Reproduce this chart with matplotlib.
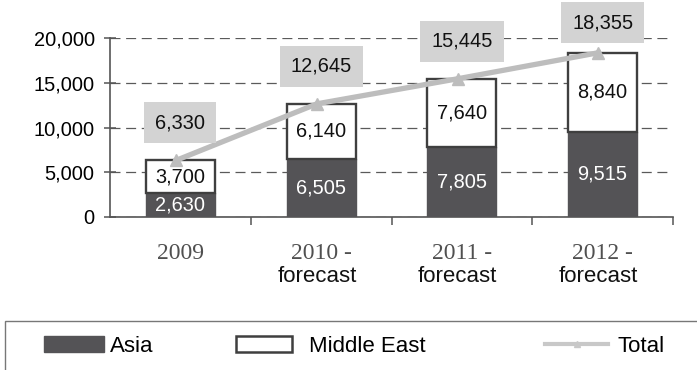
import matplotlib
matplotlib.use("Agg")
import matplotlib.pyplot as plt
import numpy as np
from matplotlib.patches import Patch, Rectangle
from matplotlib.lines import Line2D
from matplotlib.ticker import FuncFormatter

years = ["2009", "2010 -", "2011 -", "2012 -"]
sublabels = ["", "forecast", "forecast", "forecast"]
asia = [2630, 6505, 7805, 9515]
middle_east = [3700, 6140, 7640, 8840]
total = [6330, 12645, 15445, 18355]

DARK = "#545356"
LINE = "#bdbdbd"
BOX = "#d3d3d3"
SANS = "Liberation Sans"
SERIF = "Liberation Serif"
FS = 14.4

plt.rcParams["font.family"] = SANS

fig = plt.figure(figsize=(6.97, 3.70), dpi=100)
ax = fig.add_axes([110 / 697, 1 - 217 / 370, (673 - 110) / 697, (217 - 38) / 370])

x = np.arange(len(years))
w = 0.49
ax.bar(x, asia, w, color=DARK, edgecolor=DARK, lw=1, zorder=3)
ax.bar(x, middle_east, w, bottom=asia, color="white", edgecolor="#3f3f3f", lw=1.7, zorder=3)

for i in range(len(x)):
    ax.text(x[i], asia[i] / 2, f"{asia[i]:,}", ha="center", va="center",
            color="white", fontsize=FS, zorder=5)
    ax.text(x[i], asia[i] + middle_east[i] / 2, f"{middle_east[i]:,}", ha="center",
            va="center", color="#111111", fontsize=FS, zorder=5)

ax.plot(x - 0.03, total, color=LINE, lw=3.8, marker="^", ms=8, mec=LINE, mfc=LINE, zorder=4)

# total labels sit in grey boxes above the line, kept inside the picture
label_y = np.minimum(np.array(total) + 4200, 21700)
for i in range(len(x)):
    ax.text(x[i], label_y[i], f"{total[i]:,}", ha="center", va="center", fontsize=FS,
            color="#111111", zorder=6, clip_on=False,
            bbox=dict(boxstyle="square,pad=0.55", fc=BOX, ec="none"))

ax.set_xlim(-0.5, len(x) - 0.5)
ax.set_ylim(0, 20000)
ax.set_yticks([0, 5000, 10000, 15000, 20000])
ax.yaxis.set_major_formatter(FuncFormatter(lambda v, p: f"{int(v):,}"))
ax.tick_params(axis="y", labelsize=FS, length=8, direction="inout", width=1.1,
               color="#555555", pad=7)
ax.grid(axis="y", ls=(0, (8, 4.5)), color="#5a5a5a", lw=0.9, zorder=1)

ax.set_xticks(x)
ax.set_xticklabels(years, family=SERIF, fontsize=17, color="#505050")
ax.tick_params(axis="x", length=0, pad=19)
ax.set_xticks(np.arange(len(x)) + 0.5, minor=True)
ax.tick_params(axis="x", which="minor", length=6, width=1.1, color="#555555")
for i, s in enumerate(sublabels):
    if s:
        ax.text(x[i] - 0.03, -0.33, s, transform=ax.get_xaxis_transform(), ha="center",
                va="center", fontsize=16, color="#111111")

for side in ["top", "right"]:
    ax.spines[side].set_visible(False)
for side in ["left", "bottom"]:
    ax.spines[side].set_color("#555555")
    ax.spines[side].set_linewidth(1.2)

# legend frame runs off the bottom of the picture
fig.patches.append(Rectangle((5 / 697, -0.05), 0.995, 1 - 321 / 370 + 0.05,
                             transform=fig.transFigure, fill=False, ec="#777777", lw=1))
entries = [
    (Patch(fc=DARK, ec=DARK), "Asia", 44, 2.7, 0.25),
    (Patch(fc="white", ec="#3f3f3f", lw=1.8), "Middle East", 236, 2.5, 0.8),
    (Line2D([], [], color="#c8c8c8", lw=3, marker="^", ms=5, markevery=[1],
            mec="#c8c8c8"), "Total", 545, 2.85, 0.4),
]
for h, lab, x0, hl, tp in entries:
    fig.legend([h], [lab], loc="center left", bbox_to_anchor=(x0 / 697, 1 - 346 / 370),
               frameon=False, fontsize=16, handlelength=hl, handleheight=0.72,
               handletextpad=tp, borderpad=0, borderaxespad=0)

fig.savefig("out.png", dpi=100)
